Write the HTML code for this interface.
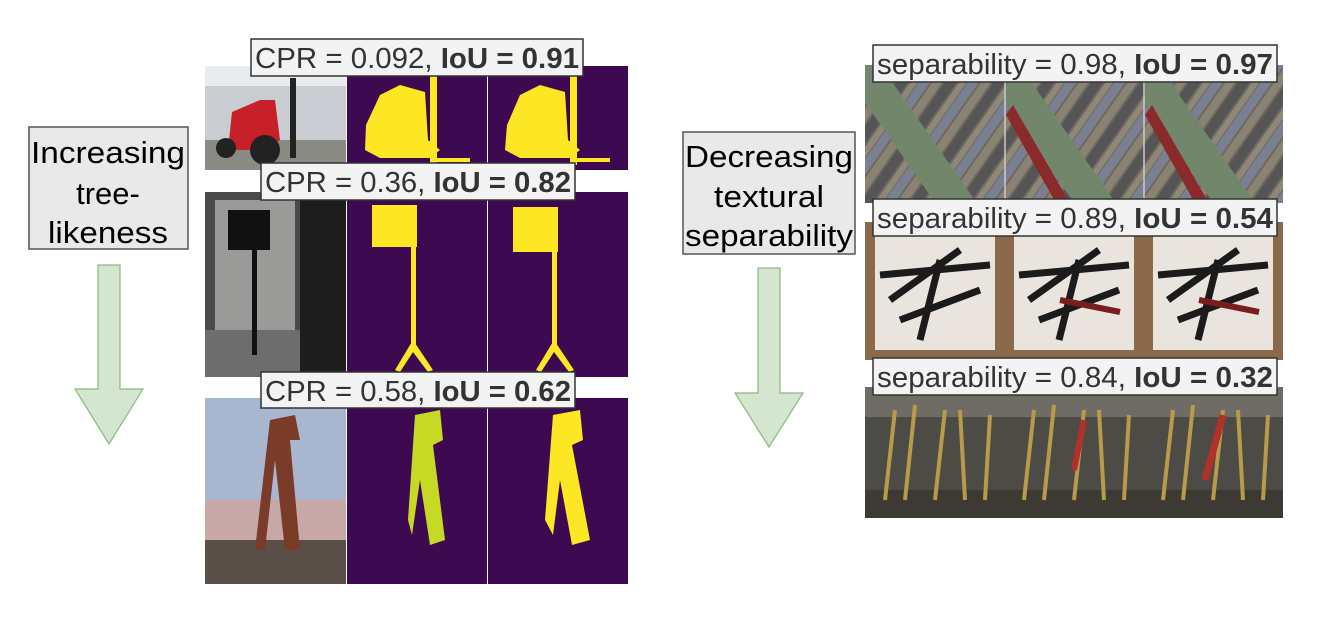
<!DOCTYPE html>
<html><head><meta charset="utf-8"><style>
html,body{margin:0;padding:0;background:#fff;}
svg{display:block;font-family:"Liberation Sans",Arial,sans-serif;}
</style></head><body>
<svg width="1318" height="628" viewBox="0 0 1318 628" xmlns="http://www.w3.org/2000/svg">
<defs>
<pattern id="pipes" width="40" height="40" patternUnits="userSpaceOnUse" patternTransform="rotate(35)">
<rect width="40" height="40" fill="#6e6a60"/>
<rect x="0" y="0" width="9" height="40" fill="#7a7f92"/>
<rect x="11" y="0" width="8" height="40" fill="#8a8272"/>
<rect x="21" y="0" width="10" height="40" fill="#555"/>
<rect x="33" y="0" width="6" height="40" fill="#8f8878"/>
</pattern>
<clipPath id="c1"><rect x="865" y="65" width="139" height="138"/></clipPath>
<clipPath id="c2"><rect x="1006" y="65" width="137" height="138"/></clipPath>
<clipPath id="c3"><rect x="1145" y="65" width="138" height="138"/></clipPath>
</defs>

<g>
<rect x="29" y="127" width="159" height="122" fill="#e9e9e9" stroke="#555" stroke-width="1.5"/>
<text x="108" y="163" text-anchor="middle" font-size="31" textLength="154" lengthAdjust="spacingAndGlyphs">Increasing</text>
<text x="108" y="204" text-anchor="middle" font-size="31">tree-</text>
<text x="108" y="243" text-anchor="middle" font-size="31" textLength="120" lengthAdjust="spacingAndGlyphs">likeness</text>
</g>
<polygon points="98,265 120,265 120,389 143,389 109,444 75,389 98,389" fill="#d4e6d0" stroke="#8bb87f" stroke-width="1.2"/>

<g>
<rect x="683" y="132" width="172" height="122" fill="#e9e9e9" stroke="#555" stroke-width="1.5"/>
<text x="769" y="167" text-anchor="middle" font-size="31" textLength="168" lengthAdjust="spacingAndGlyphs">Decreasing</text>
<text x="769" y="207" text-anchor="middle" font-size="31" textLength="110" lengthAdjust="spacingAndGlyphs">textural</text>
<text x="769" y="246" text-anchor="middle" font-size="31" textLength="168" lengthAdjust="spacingAndGlyphs">separability</text>
</g>
<polygon points="758,268 780,268 780,393 803,393 769,447 735,393 758,393" fill="#d4e6d0" stroke="#8bb87f" stroke-width="1.2"/>

<g>
<rect x="205" y="66" width="141" height="104" fill="#c9cdd2"/>
<rect x="205" y="66" width="141" height="20" fill="#e8ecef"/>
<rect x="205" y="140" width="141" height="30" fill="#8b8b86"/>
<path d="M228 150 L232 112 L260 100 L275 100 L280 140 L265 150 Z" fill="#c8202a"/>
<circle cx="226" cy="148" r="10" fill="#222"/>
<circle cx="265" cy="150" r="15" fill="#222"/>
<rect x="290" y="78" width="6" height="80" fill="#222"/>
<rect x="347" y="66" width="140" height="104" fill="#3d0a52"/>
<path d="M366 125 L380 95 L400 85 L425 92 L428 140 L440 150 L430 158 L380 158 L365 150 Z" fill="#fde725"/>
<rect x="430" y="75" width="7" height="90" fill="#fde725"/>
<rect x="430" y="158" width="40" height="4" fill="#fde725"/>
<rect x="488" y="66" width="140" height="104" fill="#3d0a52"/>
<path d="M507 125 L520 95 L540 85 L565 92 L568 140 L580 150 L570 158 L520 158 L505 150 Z" fill="#fde725"/>
<rect x="570" y="75" width="7" height="90" fill="#fde725"/>
<rect x="570" y="158" width="40" height="4" fill="#fde725"/>
</g>
<g>
<rect x="205" y="192" width="141" height="185" fill="#4a4a4a"/>
<rect x="215" y="200" width="80" height="130" fill="#9a9a98"/>
<rect x="205" y="330" width="141" height="47" fill="#6d6d6d"/>
<rect x="300" y="192" width="46" height="185" fill="#1d1d1d"/>
<rect x="228" y="210" width="42" height="40" fill="#111"/>
<rect x="252" y="245" width="5" height="110" fill="#111"/>
<rect x="347" y="192" width="140" height="185" fill="#3d0a52"/>
<rect x="372" y="205" width="45" height="42" fill="#fde725"/>
<rect x="411" y="240" width="5" height="110" fill="#fde725"/>
<path d="M413 340 L395 370 L400 372 L413 352 L428 372 L433 370 Z" fill="#fde725"/>
<rect x="488" y="192" width="140" height="185" fill="#3d0a52"/>
<rect x="513" y="207" width="45" height="45" fill="#fde725"/>
<rect x="552" y="240" width="5" height="110" fill="#fde725"/>
<path d="M554 340 L536 370 L541 372 L554 352 L569 372 L574 370 Z" fill="#fde725"/>
</g>
<g>
<rect x="205" y="398" width="141" height="186" fill="#a9b6cf"/>
<rect x="205" y="500" width="141" height="40" fill="#c8a8a6"/>
<rect x="205" y="540" width="141" height="44" fill="#5a4e48"/>
<path d="M270 420 L295 415 L300 440 L290 440 L300 550 L285 550 L275 460 L265 550 L255 550 Z" fill="#7a3b28"/>
<rect x="347" y="398" width="140" height="186" fill="#3d0a52"/>
<path d="M415 415 L440 410 L443 440 L433 445 L445 540 L430 545 L420 480 L412 535 L408 520 Z" fill="#c6d924"/>
<rect x="488" y="398" width="140" height="186" fill="#3d0a52"/>
<path d="M553 415 L580 410 L583 440 L572 445 L590 540 L572 545 L560 480 L553 535 L545 520 Z" fill="#fde725"/>
</g>

<g>
<rect x="865" y="65" width="418" height="138" fill="url(#pipes)"/>
<g clip-path="url(#c1)"><rect x="895" y="50" width="34" height="180" fill="#71866b" transform="rotate(-35 912 140)"/></g>
<g clip-path="url(#c2)"><rect x="1034" y="50" width="34" height="180" fill="#71866b" transform="rotate(-35 1051 140)"/>
<polygon points="1006,115 1013,105 1070,203 1056,203" fill="#8b2a2a"/></g>
<g clip-path="url(#c3)"><rect x="1173" y="50" width="34" height="180" fill="#71866b" transform="rotate(-35 1190 140)"/>
<polygon points="1145,115 1152,105 1209,203 1195,203" fill="#8b2a2a"/></g>
<line x1="1005" y1="65" x2="1005" y2="203" stroke="#ccc" stroke-width="1.5"/>
<line x1="1144" y1="65" x2="1144" y2="203" stroke="#ccc" stroke-width="1.5"/>
</g>
<g>
<rect x="865" y="222" width="418" height="138" fill="#8b6a4c"/>
<rect x="875" y="235" width="120" height="115" fill="#e9e4de"/>
<rect x="1014" y="235" width="120" height="115" fill="#e9e4de"/>
<rect x="1153" y="235" width="120" height="115" fill="#e9e4de"/>
<path d="M880 275 L990 265 M890 300 L960 250 M900 320 L980 290 M920 340 L940 260" stroke="#1b1b1b" stroke-width="7"/>
<path d="M1019 275 L1129 265 M1029 300 L1099 250 M1039 320 L1119 290 M1059 340 L1079 260" stroke="#1b1b1b" stroke-width="7"/>
<path d="M1158 275 L1268 265 M1168 300 L1238 250 M1178 320 L1258 290 M1198 340 L1218 260" stroke="#1b1b1b" stroke-width="7"/>
<path d="M1060 300 L1120 312" stroke="#7a1d1d" stroke-width="6"/>
<path d="M1199 300 L1259 312" stroke="#7a1d1d" stroke-width="6"/>
</g>
<g>
<rect x="865" y="387" width="418" height="131" fill="#4d4b45"/>
<rect x="865" y="387" width="418" height="30" fill="#6e6c64"/>
<rect x="865" y="490" width="418" height="28" fill="#3d3a33"/>
<path d="M885 500 L895 410 M905 500 L915 405 M935 500 L945 410 M965 500 L960 410 M985 500 L990 415" stroke="#b89a4a" stroke-width="4"/>
<path d="M1024 500 L1034 410 M1044 500 L1054 405 M1074 500 L1084 410 M1104 500 L1099 410 M1124 500 L1129 415" stroke="#b89a4a" stroke-width="4"/>
<path d="M1163 500 L1173 410 M1183 500 L1193 405 M1213 500 L1223 410 M1243 500 L1238 410 M1263 500 L1268 415" stroke="#b89a4a" stroke-width="4"/>
<path d="M1074 470 L1084 420" stroke="#b3302a" stroke-width="6"/>
<path d="M1205 480 L1223 415" stroke="#b3302a" stroke-width="7"/>
</g>

<g>
<rect x="251" y="39" width="332" height="37" fill="#f3f3f3" stroke="#333" stroke-width="1.5"/>
<text x="417" y="68" text-anchor="middle" font-size="29" fill="#333" textLength="324" lengthAdjust="spacingAndGlyphs">CPR = 0.092, <tspan font-weight="bold">IoU = 0.91</tspan></text>
</g>
<g>
<rect x="261" y="163" width="314" height="37" fill="#f3f3f3" stroke="#333" stroke-width="1.5"/>
<text x="418" y="192" text-anchor="middle" font-size="29" fill="#333" textLength="306" lengthAdjust="spacingAndGlyphs">CPR = 0.36, <tspan font-weight="bold">IoU = 0.82</tspan></text>
</g>
<g>
<rect x="261" y="372" width="314" height="36" fill="#f3f3f3" stroke="#333" stroke-width="1.5"/>
<text x="418" y="401" text-anchor="middle" font-size="29" fill="#333" textLength="306" lengthAdjust="spacingAndGlyphs">CPR = 0.58, <tspan font-weight="bold">IoU = 0.62</tspan></text>
</g>
<g>
<rect x="873" y="45" width="404" height="37" fill="#f3f3f3" stroke="#333" stroke-width="1.5"/>
<text x="1075" y="74" text-anchor="middle" font-size="29" fill="#333" textLength="396" lengthAdjust="spacingAndGlyphs">separability = 0.98, <tspan font-weight="bold">IoU = 0.97</tspan></text>
</g>
<g>
<rect x="873" y="199" width="404" height="37" fill="#f3f3f3" stroke="#333" stroke-width="1.5"/>
<text x="1075" y="228" text-anchor="middle" font-size="29" fill="#333" textLength="396" lengthAdjust="spacingAndGlyphs">separability = 0.89, <tspan font-weight="bold">IoU = 0.54</tspan></text>
</g>
<g>
<rect x="873" y="358" width="404" height="37" fill="#f3f3f3" stroke="#333" stroke-width="1.5"/>
<text x="1075" y="387" text-anchor="middle" font-size="29" fill="#333" textLength="396" lengthAdjust="spacingAndGlyphs">separability = 0.84, <tspan font-weight="bold">IoU = 0.32</tspan></text>
</g>
</svg>
</body></html>
